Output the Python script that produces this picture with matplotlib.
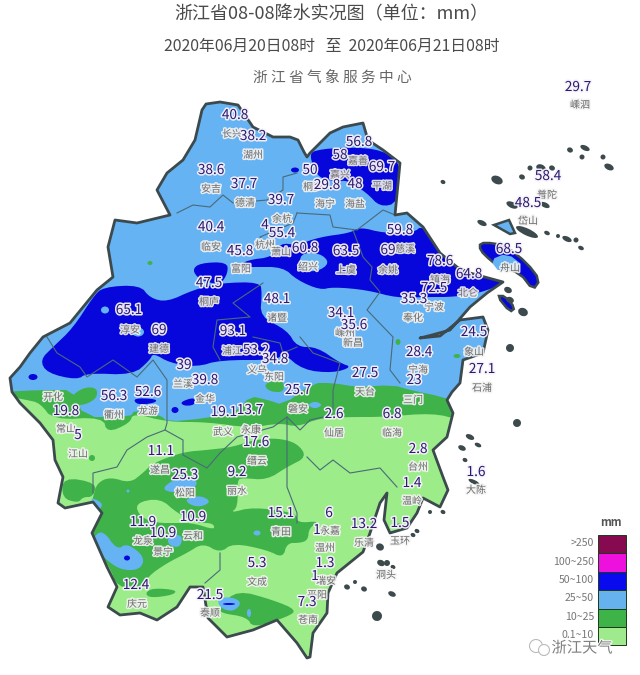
import numpy as np
import matplotlib
matplotlib.use("Agg")
import matplotlib.pyplot as plt
import matplotlib.patheffects as pe
from matplotlib.patches import Polygon, Rectangle, Ellipse, Circle

plt.rcParams['font.family'] = ['Noto Sans CJK SC', 'DejaVu Sans']

# ---- data -------------------------------------------------------------
value_labels = ["29.7","40.8","38.2","38.6","37.7","39.7","50","29.8","48","56.8","58","69.7",
    "4","55.4","60.8","63.5","69","59.8","78.6","64.8","72.5","35.3","34.1","35.6","40.4","45.8",
    "47.5","48.1","65.1","69","93.1","53.2","34.8","39","39.8","25.7","27.5","23","28.4","24.5",
    "27.1","68.5","48.5","58.4","56.3","19.8","52.6","5","19.1","13.7","17.6","11.1","25.3","9.2",
    "10.9","15.1","11.9","10.9","5.3","12.4","21.5","7.3","2.6","6.8","2.8","1.6","1.4","6","1",
    "13.2","1.5","1.3","1"]
value_x = [578,235,253,211,244,281,310,327,355,359,340,382,265,282,305,346,388,400,440,469,434,414,
    341,354,211,240,209,277,129,159,233,256,275,184,205,298,365,414,419,474,482,509,528,548,114,66,
    148,78,224,250,256,161,185,237,193,281,143,163,257,136,210,307,334,392,418,476,412,329,317,364,
    400,325,315]
value_y = [87,115,136,170,184,200,170,185,184,142,155,167,225,233,248,251,250,230,261,274,288,299,
    313,325,227,251,283,299,310,330,331,350,359,365,380,390,373,380,352,332,369,249,203,176,396,411,
    392,435,412,410,442,451,475,472,517,513,522,533,563,585,595,602,414,414,449,472,483,513,530,524,
    523,563,576]

name_labels = ["嵊泗","长兴","湖州","安吉","德清","桐乡","嘉兴","嘉善","平湖","海宁","海盐","余杭","杭州","萧山",
    "绍兴","上虞","慈溪","余姚","镇海","北仑","宁波","奉化","嵊州","新昌","临安","富阳","桐庐","诸暨","淳安",
    "建德","浦江","义乌","东阳","兰溪","磐安","天台","宁海","三门","象山","石浦","舟山","岱山","普陀","开化",
    "衢州","龙游","常山","江山","金华","武义","永康","缙云","遂昌","松阳","丽水","云和","青田","龙泉","景宁",
    "文成","庆元","泰顺","平阳","苍南","仙居","临海","台州","大陈","温岭","永嘉","温州","乐清","玉环","洞头","瑞安"]
name_x = [580,232,253,211,245,313,340,358,382,325,355,282,265,281,308,346,405,388,440,468,434,413,345,
    353,211,241,209,277,130,159,232,257,274,183,298,365,418,413,474,482,510,528,547,53,114,148,66,78,
    205,223,251,257,160,185,237,193,281,143,163,257,137,210,317,308,334,392,418,476,412,330,325,364,
    400,386,326]
name_y = [105,134,155,189,203,187,175,161,186,204,204,219,245,252,267,270,249,270,280,293,307,318,333,
    343,247,269,302,318,330,349,351,370,377,384,409,392,370,400,352,388,268,221,195,397,415,411,429,
    454,399,432,430,461,470,493,491,536,532,541,552,582,604,613,595,620,433,433,467,490,501,531,548,
    543,541,575,581]

legend_labels = [">250","100~250","50~100","25~50","10~25","0.1~10"]
legend_colors = ["#870a50","#ee10dc","#0a0aee","#66b2ee","#3db348","#9eea8c"]
C_LG, C_G, C_LB, C_B = "#9cec8a", "#3fb24a", "#66b3f4", "#0707dc"
INK, EDGE, GREY = "#2b1a70", "#3c4a4e", "#6b6b6b"

outline = [(202,110),(206,104),(220,102),(238,105),(253,127),(273,137),(290,137),(298,140),(304,152),(307,157),
    (310,153),(330,133),(343,127),(363,123),(368,140),(383,150),(400,163),(395,215),(407,213),(423,227),(440,253),
    (457,267),(470,273),(503,282),(487,293),(470,307),(450,330),(432,335),(420,338),(440,336),(460,320),(483,317),
    (488,330),(483,353),(463,360),(460,383),(452,392),(447,400),(453,413),(447,437),(433,450),(443,477),(448,490),
    (440,507),(423,498),(417,513),(407,528),(390,533),(384,520),(387,493),(380,503),(370,533),(363,552),(337,573),
    (328,593),(327,613),(313,633),(310,657),(307,658),(297,643),(277,620),(253,630),(227,637),(208,618),(203,587),
    (190,587),(177,607),(157,620),(140,613),(120,615),(108,607),(117,587),(107,567),(92,533),(102,513),(93,502),
    (65,508),(58,503),(63,477),(55,460),(53,440),(40,423),(20,403),(12,392),(10,378),(20,367),(30,353),(43,337),
    (70,323),(97,290),(113,277),(108,247),(115,220),(137,223),(170,215),(157,190),(167,173),(183,160),(195,140)]

green_north = [(0,375),(460,375),(460,420),(433,413),(383,417),(350,417),(320,418),(297,427),(280,423),(250,428),
    (207,422),(167,422),(133,413),(130,423),(107,433),(103,417),(53,420),(40,403),(27,400),(0,395)]
blue_light_north = [(0,90),(520,90),(520,300),(520,420),(443,397),(410,390),(393,385),(357,387),(333,383),(313,383),
    (283,405),(268,400),(250,396),(237,412),(207,418),(168,422),(160,415),(135,410),(130,417),(83,417),(75,390),(40,390),(0,392)]
green_blob_west = [(72,395),(85,387),(97,388),(97,398),(85,405),(72,405)]
green_blob_mid = [(263,384),(282,378),(285,392),(270,392)]
green_mid = [(183,452),(207,450),(233,447),(253,440),(277,438),(297,443),(307,457),(287,467),(267,480),(243,478),
    (237,480),(238,507),(230,513),(253,507),(297,513),(297,523),(320,521),(309,528),(308,540),(300,543),(287,543),
    (283,558),(267,550),(233,543),(220,553),(203,543),(187,553),(167,563),(147,577),(143,590),(117,587),(110,567),
    (85,533),(93,497),(97,483),(110,477),(130,483),(143,473),(153,463)]
green_west = [(63,477),(97,483),(93,497),(83,497),(78,503),(62,498)]
green_south = [(220,607),(237,590),(273,600),(297,610),(287,617),(253,628),(247,617),(220,613)]
green_south2 = [(145,593),(153,588),(177,590),(173,595),(150,598)]
lightgreen_island = [(135,503),(160,498),(177,513),(197,523),(213,523),(215,530),(193,523),(177,523),(157,523),(140,517)]
lb_spots = [
    [(163,487),(177,478),(200,480),(190,493),(167,492)],
    [(183,500),(200,495),(212,502),(197,508)],
    [(93,537),(103,530),(117,550),(127,543),(145,557),(140,570),(120,570),(103,557),(95,547)],
    [(90,497),(103,503),(100,510),(94,506)],
    [(168,535),(183,535),(180,548),(168,545)],
    [(217,598),(233,597),(242,603),(233,612),(220,608)],
    [(307,405),(315,401),(323,405),(315,409)]]
blue_ne = [(310,157),(313,150),(350,147),(383,150),(402,165),(398,203),(380,207),(367,193),(347,180),(337,182),(320,178),(315,170)]
blue_ce = [(280,243),(297,245),(320,237),(350,233),(360,227),(383,233),(413,233),(423,225),(440,250),(457,265),(503,280),
    (505,283),(480,293),(453,297),(427,297),(397,298),(367,290),(333,287),(320,290),(297,280),(283,267),(253,267),(238,267),
    (247,260),(273,257)]
lb_shaoxing = [(300,253),(320,253),(330,263),(317,272),(300,270)]
blue_w = [(40,360),(53,347),(73,328),(93,297),(103,287),(140,285),(150,298),(167,302),(193,290),(220,283),(260,282),
    (262,293),(260,317),(287,330),(297,347),(317,347),(340,363),(352,367),(333,373),(303,370),(283,353),(277,360),(220,360),
    (197,367),(170,363),(153,353),(150,360),(133,375),(87,373),(77,380),(47,373)]
blue_tonglu = [(192,270),(200,263),(227,262),(228,273),(220,285),(200,280)]
blue_spots = [[(133,398),(157,399),(155,403),(137,405)],[(180,402),(195,397),(195,405),(184,406)]]

borders = [
    [(177,213),(193,205),(210,207),(223,195),(233,203),(267,200),(283,190),(283,177),(297,173)],
    [(297,213),(330,215),(333,227),(357,230),(383,210),(395,215)],
    [(297,213),(293,223),(260,237),(277,257)],
    [(353,230),(363,257),(372,267),(370,280),(380,292),(367,310),(393,337),(390,370),(400,383)],
    [(300,337),(313,353),(340,363),(333,390),(333,410)],
    [(263,283),(233,303),(250,317),(217,320),(213,347),(220,360)],
    [(253,337),(280,343),(283,353),(297,347)],
    [(47,337),(57,353),(80,367),(87,377),(113,360),(137,377),(153,360),(167,380),(167,423),(165,430),(147,437),(127,450),
     (117,467),(93,473),(93,493)],
    [(165,430),(183,440),(183,455),(207,468),(220,453),(237,437),(273,427),(287,417),(300,430),(310,420),(323,417)],
    [(287,417),(287,450),(287,473),(287,487),(297,513),(297,523)],
    [(307,457),(320,470),(333,460),(350,473),(380,468),(397,487)],
    [(220,553),(220,570),(205,583)]]

islands_x = [443,497,522,530,541,552,570,585,582,603,609,512,545,527,547,558,567,576,581,510,482,
    517,470,478,462,465,474,443,417,413,400,430,380,381,387,393,347,355,364,392,377,523,510,508]
islands_y = [182,180,177,168,168,168,150,148,157,157,167,205,205,232,233,236,239,240,248,348,223,
    423,437,445,448,460,482,512,531,535,526,512,547,563,563,567,587,582,589,594,616,312,300,290]
islands_w = [5,12,6,5,10,6,6,10,5,5,10,12,10,24,6,4,10,5,6,8,10,8,9,7,8,5,12,5,5,5,7,4,8,8,6,5,
    6,4,6,8,10,10,8,8]
islands_h = [4,8,5,5,7,5,5,5,5,5,6,6,5,7,4,4,5,5,4,8,5,8,5,4,5,4,4,4,4,4,4,4,7,6,6,4,5,4,5,5,10,8,6,6]

# ---- drawing ----------------------------------------------------------
def smooth(pts, n=2):
    p = np.array(pts, float)
    for _ in range(n):
        q = np.roll(p, -1, axis=0)
        p = np.column_stack([0.75*p+0.25*q, 0.25*p+0.75*q]).reshape(-1, 2)
    return p

fig = plt.figure(figsize=(6.4, 6.75), dpi=100)
ax = fig.add_axes([0, 0, 1, 1])
ax.set_xlim(0, 640); ax.set_ylim(675, 0); ax.axis("off")

land = Polygon(outline, closed=True, fc=C_LG, ec="none", zorder=1)
ax.add_patch(land)

def zone(pts, color, z, sm=2):
    p = Polygon(smooth(pts, sm) if sm else pts, closed=True, fc=color, ec="none", zorder=z)
    ax.add_patch(p); p.set_clip_path(land)

for g in [green_north, green_mid, green_west, green_south, green_south2]:
    zone(g, C_G, 2)
zone(lightgreen_island, C_LG, 2.5)
zone(blue_light_north, C_LB, 3, 1)
for g in [green_blob_west, green_blob_mid]:
    zone(g, C_G, 3.2)
for s in lb_spots:
    zone(s, C_LB, 3.2)
for b in [blue_ne, blue_ce, blue_w, blue_tonglu] + blue_spots:
    zone(b, C_B, 4)
zone(lb_shaoxing, C_LB, 4.5)
for cx, cy, w, h in [(105,310,8,7),(138,332,12,9)]:
    e = Ellipse((cx, cy), w, h, fc=C_LB, ec="none", zorder=4.5); ax.add_patch(e)
for cx, cy, w, h, c in [(33,377,9,6,C_B),(295,170,8,5,C_B),(175,410,7,6,C_B),(127,558,6,5,C_B),(229,604,12,2,C_B),
                        (92,458,6,6,C_G),(150,263,5,4,C_G),(270,136,0.1,0.1,C_G),(398,342,5,6,C_G),(457,356,7,4,C_G),
                        (237,568,0.1,0.1,C_G),(249,613,4,8,C_LB),(257,533,7,5,C_LB),(234,494,5,4,C_LB),(128,491,3,3,C_LB)]:
    e = Ellipse((cx, cy), w, h, fc=c, ec="none", zorder=4.6); ax.add_patch(e); e.set_clip_path(land)

for b in borders:
    xs, ys = zip(*b)
    ax.plot(xs, ys, color="#4a6a78", lw=0.8, zorder=5, clip_on=True)

ax.add_patch(Polygon(outline, closed=True, fc="none", ec=EDGE, lw=2.0, joinstyle="round", zorder=6))

# Zhoushan
zs = [(480,243),(493,243),(507,247),(527,263),(540,280),(533,290),(520,273),(500,267),(490,260),(480,250)]
ax.add_patch(Polygon(smooth(zs,1), closed=True, fc=C_B, ec=EDGE, lw=1.8, zorder=6))
ax.add_patch(Polygon(smooth([(490,260),(507,253),(525,267),(500,273)],1), closed=True, fc=C_LB, ec="none", zorder=6.2))
ax.add_patch(Polygon([(494,225),(509,220),(515,233),(510,234)], closed=True, fc=C_LB, ec=EDGE, lw=1.8, zorder=6))
ax.add_patch(Polygon(smooth([(497,296),(505,296),(515,308),(510,312)],1), closed=True, fc=C_B, ec=EDGE, lw=1.8, zorder=6))
for x, y, w, h in zip(islands_x, islands_y, islands_w, islands_h):
    ax.add_patch(Ellipse((x, y), w, h, angle=25, fc=EDGE, ec="none", zorder=6))

halo_n = [pe.withStroke(linewidth=2.2, foreground="#f4f4f4", alpha=0.9)]
halo_v = [pe.withStroke(linewidth=2.2, foreground="#f6f2fa", alpha=0.95)]
for t, x, y in zip(name_labels, name_x, name_y):
    ax.text(x, y, t, ha="center", va="center", fontsize=7.2, color=GREY, path_effects=halo_n, zorder=7)
for t, x, y in zip(value_labels, value_x, value_y):
    ax.text(x, y, t, ha="center", va="center", fontsize=9.8, color=INK, fontweight="medium",
            path_effects=halo_v, zorder=8)

# titles
ax.text(331, 14, "浙江省08-08降水实况图（单位：mm）", ha="center", va="center", fontsize=13, color="#4a4a4a")
ax.text(332, 46, "2020年06月20日08时   至  2020年06月21日08时", ha="center", va="center", fontsize=11.4, color="#4a4a4a")
ax.text(332, 78, "浙 江 省 气 象 服 务 中 心", ha="center", va="center", fontsize=10.6, color="#666666", fontweight="light")

# legend
lx, ly, lw_, lh = 598, 535, 28, 18.4
for i, (lab, col) in enumerate(zip(legend_labels, legend_colors)):
    ax.add_patch(Rectangle((lx, ly+i*lh), lw_, lh, fc=col, ec="#1a3a1a", lw=0.7, zorder=3))
    ax.text(lx-4, ly+i*lh+lh/2-1, lab, ha="right", va="center", fontsize=7.6, color="#777777", zorder=3)
ax.text(lx+13, 523, "mm", ha="center", va="center", fontsize=8, color="#555555", fontweight="bold")

# watermark
ax.add_patch(Circle((536,646), 6.5, fc="white", ec="#bbbbbb", lw=0.8, zorder=9))
ax.add_patch(Circle((544,650), 5.5, fc="white", ec="#bbbbbb", lw=0.8, zorder=9))
ax.text(582, 648, "浙江天气", ha="center", va="center", fontsize=11, color="#808080", zorder=10,
        path_effects=[pe.withStroke(linewidth=1.5, foreground="white")])

fig.savefig("out.png", dpi=100, facecolor="white")
